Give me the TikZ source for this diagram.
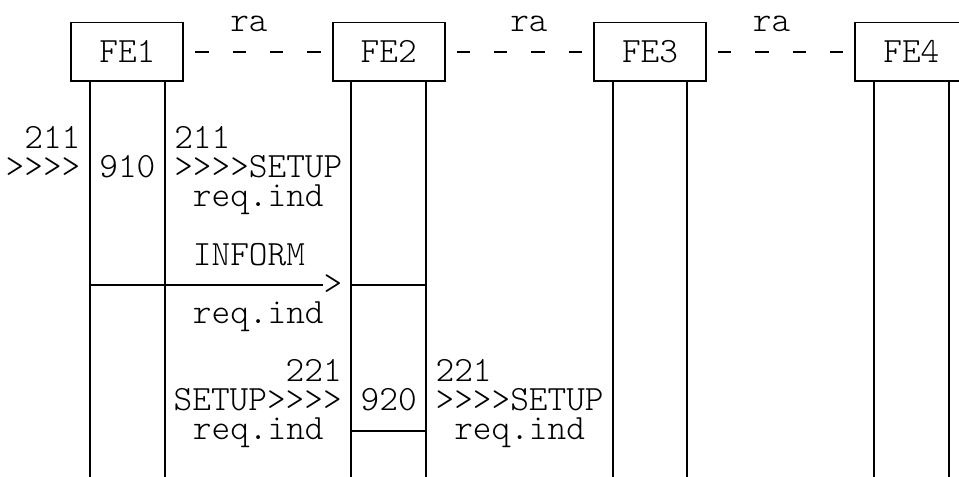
\documentclass[tikz,border=0pt]{standalone}
\usepackage{tikz}
\usetikzlibrary{arrows.meta}
\newcommand{\ascfont}{\ttfamily\fontseries{l}\fontsize{26.67pt}{22pt}\selectfont}
\newcommand{\gts}{>\kern0pt>\kern0pt>\kern0pt>}

\begin{document}
\begin{tikzpicture}[
    febox/.style={draw,line width=1.4pt,minimum width=84pt,minimum height=43.72pt,inner sep=0pt,outer sep=0pt,font=\ascfont},
    life/.style={line width=1.4pt},
    ralink/.style={line width=1.4pt,dash pattern=on 10pt off 18pt,dash phase=19pt},
    lbl/.style={font=\ascfont,inner sep=0pt,text height=15pt,text depth=5pt,anchor=base west,yshift=-7pt},
    rlbl/.style={lbl,anchor=base east},
    clbl/.style={lbl,anchor=base}]
\useasboundingbox (0pt,0pt) rectangle (719.25pt,-357pt);
\begin{scope}[shift={(4.5pt,-16.91pt)},x=14pt,y=-21.86pt]
% functional entities and their lifelines
\foreach \n/\c in {1/3,2/17,3/31,4/45} {
    \node[febox] (fe\n) at (\c+3.5,1) {FE\n};
    \coordinate (fe\n-l) at (\c+1.5,16);
    \coordinate (fe\n-r) at (\c+5.5,16);
    \draw[life] (fe\n-l |- fe\n.south) -- (fe\n-l);
    \draw[life] (fe\n-r |- fe\n.south) -- (fe\n-r);
}
% ra relationships
\draw[ralink] (fe1.east) -- (fe2.west);
\draw[ralink] (fe2.east) -- (fe3.west);
\draw[ralink] (fe3.east) -- (fe4.west);
\node[lbl] (ra1) at (12,0) {ra};
\node[lbl] (ra2) at (27,0) {ra};
\node[lbl] (ra3) at (40,0) {ra};
% incoming setup at FE1
\node[rlbl] (in211) at (4,4) {211};
\node[rlbl] (inmark) at (4,5) {\gts};
\node[clbl] (act910) at (6.5,5) {910};
\node[lbl] (out211) at (9,4) {211};
\node[lbl] (setup1) at (9,5) {\gts SETUP};
\node[lbl] (setup1ri) at (10,6) {req.ind};
% inform FE1 -> FE2
\node[lbl] (inform) at (10,8) {INFORM};
\node[lbl] (informtip) at (17,9) {>};
\node[lbl] (informri) at (10,10) {req.ind};
\coordinate (informrow) at (10,9);
\draw[life] (fe1-l |- informrow) -- (informtip.west |- informrow);
\draw[life] (fe2-l |- informrow) -- (fe2-r |- informrow);
% setup at FE2
\node[rlbl] (in221) at (18,12) {221};
\node[rlbl] (setup2in) at (18,13) {SETUP\gts};
\node[lbl] (in221ri) at (10,14) {req.ind};
\node[clbl] (act920) at (20.5,13) {920};
\node[lbl] (out221) at (23,12) {221};
\node[lbl] (setup2) at (23,13) {\gts SETUP};
\node[lbl] (setup2ri) at (24,14) {req.ind};
\coordinate (fe2mark) at (20.5,14);
\draw[life] (fe2-l |- fe2mark) -- (fe2-r |- fe2mark);
\end{scope}
\end{tikzpicture}
\end{document}
